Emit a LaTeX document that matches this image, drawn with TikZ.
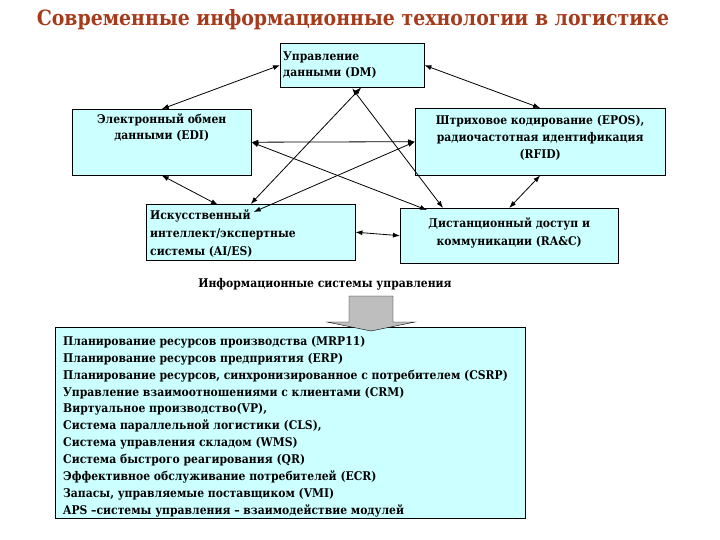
\documentclass[tikz,border=0pt]{standalone}
\usepackage{fontspec}
\setmainfont{DejaVu Serif Condensed}
\usepackage{xcolor}
\usepackage{tikz}
\usetikzlibrary{shapes,arrows,arrows.meta,calc}
\definecolor{bcyan}{HTML}{CCFFFF}
\definecolor{bbrown}{HTML}{A63A1A}
\definecolor{bgray}{HTML}{BEBEBE}
\newcommand{\boxfont}{\fontsize{12}{16}\selectfont\bfseries}
\newcommand{\listfont}{\fontsize{12}{16.9}\selectfont\bfseries}
\tikzstyle{box} = [rectangle, draw, fill=bcyan, anchor=north west, inner sep=0pt]
\tikzstyle{boxtext} = [inner sep=0pt, font=\boxfont, align=center, anchor=north]
\tikzstyle{lefttext} = [boxtext, align=left, anchor=north west]
\tikzstyle{arrow} = [draw, <->, >={Latex[length=7pt,width=5pt]}, thick]

\begin{document}
\begin{tikzpicture}[x=1pt, y=-1pt]
    \useasboundingbox (0,0) rectangle (720,540);
    % title
    \node[font=\fontsize{21}{26}\selectfont\bfseries, text=bbrown] (title) at (353,20) {Современные информационные технологии в логистике};
    % boxes
    \node[box, minimum width=144pt, minimum height=44pt] at (280,43) (dm) {};
    \node[lefttext] at ($(dm.north west)+(3,9)$) (dmtext) {Управление\\данными (DM)};
    \node[box, minimum width=179pt, minimum height=66pt] at (72,109) (edi) {};
    \node[boxtext] at ($(edi.north)+(0,4)$) (editext) {Электронный обмен\\данными (EDI)};
    \node[box, minimum width=250pt, minimum height=67pt] at (415,108) (epos) {};
    \node[boxtext, font=\fontsize{12}{17}\selectfont\bfseries] at ($(epos.north)+(0,7)$) (epostext) {Штриховое кодирование (EPOS),\\радиочастотная идентификация\\(RFID)};
    \node[box, minimum width=209pt, minimum height=56pt] at (146,204) (ai) {};
    \node[lefttext, font=\fontsize{12}{18}\selectfont\bfseries] at ($(ai.north west)+(4,5)$) (aitext) {Искусственный\\интеллект/экспертные\\системы (AI/ES)};
    \node[box, minimum width=218pt, minimum height=55pt] at (400,208) (rac) {};
    \node[boxtext, font=\fontsize{12}{18}\selectfont\bfseries] at ($(rac.north)+(0,9)$) (ractext) {Дистанционный доступ и\\коммуникации (RA\&C)};
    % connectors
    \path[arrow] (dm.west) to (edi.north);
    \path[arrow] (dm.east) to (epos.north);
    \path[arrow] ($(dm.south)+(9,0)$) to (ai.north);
    \path[arrow] ($(dm.south)+(0,1)$) to ($(rac.north west)+(43,0)$);
    \path[arrow] (edi.east) to (epos.west);
    \path[arrow] (edi.east) to ($(rac.north west)+(27,2)$);
    \path[arrow] ($(ai.north)+(3,8)$) to (epos.west);
    \path[arrow] (edi.south) to ($(ai.north west)+(72,1)$);
    \path[arrow] (ai.east) to (rac.west);
    \path[arrow] (epos.south) to (rac.north);
    % management systems
    \node[font=\boxfont] at (325,284) (ismlabel) {Информационные системы управления};
    \node[box, minimum width=470pt, minimum height=191pt] at (55,327) (sys) {};
    \draw[fill=bgray] (349,296) -- (393,296) -- (393,322) -- (415,322) -- (371,331) -- (327,322) -- (349,322) -- cycle;
    \node[lefttext, font=\listfont] at ($(sys.north west)+(8,9)$) (systext) {Планирование ресурсов производства (MRP11)\\
        Планирование ресурсов предприятия (ERP)\\
        Планирование ресурсов, синхронизированное с потребителем (CSRP)\\
        Управление взаимоотношениями с клиентами (CRM)\\
        Виртуальное производство(VP),\\
        Система параллельной логистики (CLS),\\
        Система управления складом (WMS)\\
        Система быстрого реагирования (QR)\\
        Эффективное обслуживание потребителей (ECR)\\
        Запасы, управляемые поставщиком (VMI)\\
        APS –системы управления – взаимодействие модулей};
\end{tikzpicture}
\end{document}
